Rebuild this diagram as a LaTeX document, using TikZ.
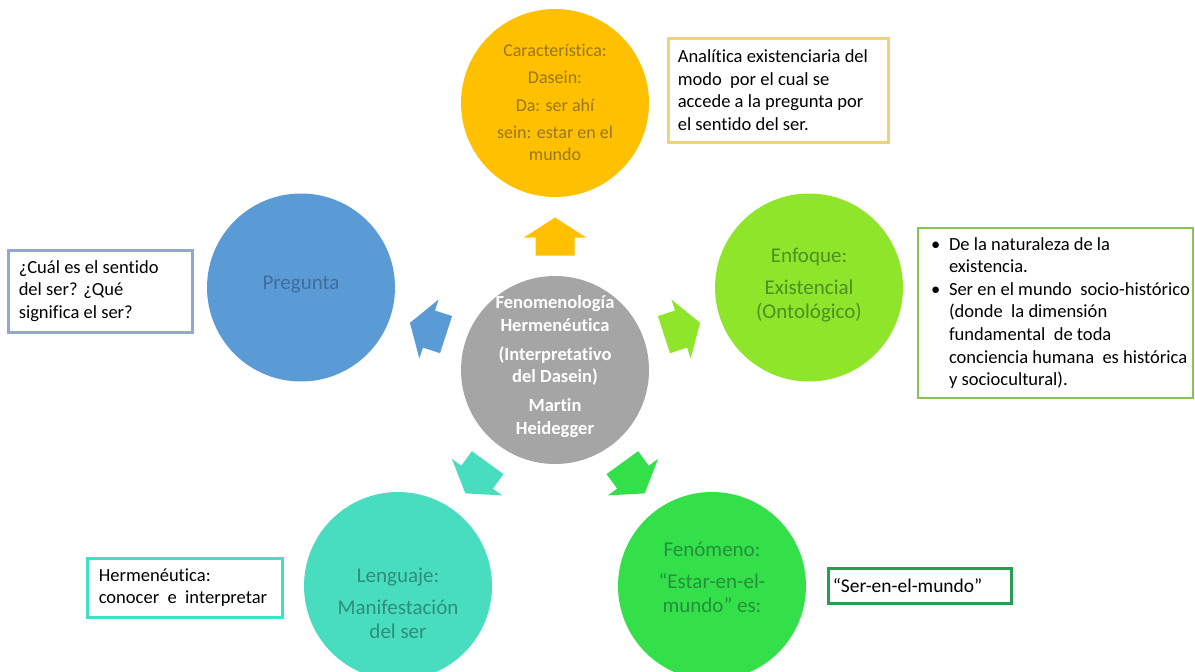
\documentclass[tikz,border=0pt]{standalone}
\usepackage{fontspec}
\setmainfont{Carlito}[Ligatures=NoCommon]
\usetikzlibrary{calc}
\definecolor{cOrange}{HTML}{FFC000}
\definecolor{cGray}{HTML}{A5A5A5}
\definecolor{cBlue}{HTML}{5B9BD5}
\definecolor{cLime}{HTML}{8FE52A}
\definecolor{cGreen}{HTML}{33E04A}
\definecolor{cTeal}{HTML}{48DDBF}
\definecolor{tOrange}{HTML}{98761C}
\definecolor{tBlue}{HTML}{3D6E9E}
\definecolor{tLime}{HTML}{4F8F22}
\definecolor{tTeal}{HTML}{2D8F7A}
\definecolor{tGreen}{HTML}{24903A}
\definecolor{bGold}{HTML}{F0D27A}
\definecolor{bBlue}{HTML}{8FA8D8}
\definecolor{bLime}{HTML}{84C651}
\definecolor{bTeal}{HTML}{3EE0C6}
\definecolor{bGreen}{HTML}{24A050}
\begin{document}
\begin{tikzpicture}[x=0.75pt,y=-0.75pt,
  circ/.style={circle,minimum size=141pt,inner sep=0pt,draw=none},
  ctext/.style={align=center,inner sep=0pt,font=\fontsize{15.75}{18}\selectfont},
  box/.style={rectangle,fill=white,line width=2.25pt,inner sep=0pt},
  btext/.style={align=left,inner sep=0pt,anchor=west,text=black,font=\fontsize{13.9}{16.9}\selectfont},
  barrow/.pic={\fill[pic actions] (-19,-19.5) -- (-1,-19.5) -- (-1,-31) -- (19,0) -- (-1,31) -- (-1,19.5) -- (-19,19.5) -- cycle;}
]
\useasboundingbox (0,0) rectangle (1195,671);
\fill[white] (0,0) rectangle (1195,671);
\clip (0,0) rectangle (1195,671);

% circles
\node[circ,fill=cGray] (cen) at (555,370) {};
\node[circ,fill=cOrange] (car) at (555,103) {};
\node[circ,fill=cBlue] (pre) at (301,287.5) {};
\node[circ,fill=cLime] (enf) at (809,287.5) {};
\node[circ,fill=cTeal] (len) at (398,586) {};
\node[circ,fill=cGreen] (fen) at (712,586) {};

% circle texts
\node[ctext,font=\bfseries\fontsize{13.9}{16.9}\selectfont,text=white] (cen-t) at (555,366.5)
  {Fenomenología\\Hermenéutica\\[4.9pt](Interpretativo\\del Dasein)\\[4.9pt]Martin\\Heidegger};
\node[ctext,font=\fontsize{13.5}{16.5}\selectfont,text=tOrange] (car-t) at (555,102.5)
  {Característica:\\[4.1pt]Dasein:\\[4.1pt]Da: ser ahí\\[4.1pt]sein: estar en el\\mundo};
\node[ctext,text=tBlue] (pre-t) at (301,285) {Pregunta};
\node[ctext,text=tLime] (enf-t) at (809,285) {Enfoque:\\[6pt]Existencial\\(Ontológico)};
\node[ctext,text=tTeal] (len-t) at (398,603) {Lenguaje:\\[6pt]Manifestación\\del ser};
\node[ctext,text=tGreen] (fen-t) at (712,577) {Fenómeno:\\[6pt]“Estar-en-el-\\mundo” es:};

% block arrows from the centre outwards
\pic[fill=cOrange,rotate=90] at ($(cen)!0.5!(car)$) {barrow};
\pic[fill=cBlue,rotate=162] at ($(cen)!0.5!(pre)$) {barrow};
\pic[fill=cLime,rotate=18] at ($(cen)!0.5!(enf)$) {barrow};
\pic[fill=cTeal,rotate=234] at ($(cen)!0.5!(len)$) {barrow};
\pic[fill=cGreen,rotate=306] at ($(cen)!0.5!(fen)$) {barrow};

% boxes
\node[box,draw=bGold,minimum width=165pt,minimum height=78pt] (bx-car) at (778,90) {};
\node[btext] (bx-car-t) at ($(bx-car.west)+(11,0)$)
  {Analítica existenciaria del\\modo\ \ por el cual se\\accede a la pregunta por\\el sentido del ser.};

\node[box,draw=bLime,line width=1.9pt,minimum width=206.25pt,minimum height=127.5pt] (bx-enf) at (1055.5,313) {};
\node[btext] (bx-enf-t) at ($(bx-enf.west)+(14,0)$)
  {\makebox[13.5pt][l]{\textbullet}De la naturaleza de la\\
   \hspace*{13.5pt}existencia.\\
   \makebox[13.5pt][l]{\textbullet}Ser en el mundo\ \ socio-histórico\\
   \hspace*{13.5pt}(donde\ \ la dimensión\\
   \hspace*{13.5pt}fundamental\ \ de toda\\
   \hspace*{13.5pt}conciencia humana\ \ es histórica\\
   \hspace*{13.5pt}y sociocultural).};

\node[box,draw=bBlue,minimum width=138pt,minimum height=61.5pt] (bx-pre) at (100,291) {};
\node[btext] (bx-pre-t) at ($(bx-pre.west)+(12,0)$)
  {¿Cuál es el sentido\\del ser? ¿Qué\\significa el ser?};

\node[box,draw=bTeal,minimum width=146.25pt,minimum height=44.25pt] (bx-len) at (184.5,587.5) {};
\node[btext] (bx-len-t) at ($(bx-len.west)+(13,0)$)
  {Hermenéutica:\\conocer\ \ e\ \ interpretar};

\node[box,draw=bGreen,minimum width=137.25pt,minimum height=26.25pt] (bx-fen) at (919.5,585.5) {};
\node[btext,font=\fontsize{14.6}{16.9}\selectfont] (bx-fen-t) at ($(bx-fen.west)+(6,0)$) {“Ser-en-el-mundo”};
\end{tikzpicture}
\end{document}
